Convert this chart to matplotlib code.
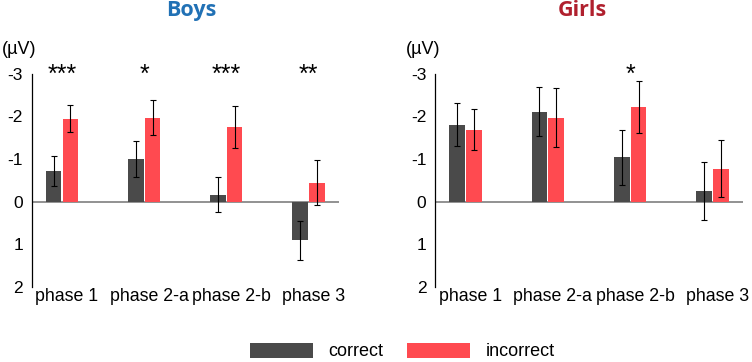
import numpy as np
import matplotlib.pyplot as plt

plt.rcParams['font.family'] = ['Liberation Sans', 'DejaVu Sans']

# 数据 (µV), 负值向上
phases = ['phase 1', 'phase 2-a', 'phase 2-b', 'phase 3']

boys_correct = [-0.72, -1.00, -0.17, 0.90]
boys_correct_err = [0.35, 0.43, 0.42, 0.46]
boys_incorrect = [-1.95, -1.97, -1.75, -0.45]
boys_incorrect_err = [0.31, 0.41, 0.49, 0.52]
boys_stars = ['***', '*', '***', '**']

girls_correct = [-1.81, -2.11, -1.04, -0.25]
girls_correct_err = [0.50, 0.57, 0.65, 0.68]
girls_incorrect = [-1.69, -1.97, -2.23, -0.78]
girls_incorrect_err = [0.48, 0.69, 0.61, 0.67]
girls_stars = ['', '', '*', '']

c_correct = '#4a4a4a'
c_incorrect = '#ff4a50'

fig = plt.figure(figsize=(7.52, 3.62), dpi=100)
ax_b = fig.add_axes([0.0426, 0.207, 0.408, 0.589])
ax_g = fig.add_axes([0.579, 0.207, 0.409, 0.589])

x = np.arange(len(phases))
w = 0.19

def draw_panel(ax, corr, corr_err, inc, inc_err, stars):
    ax.bar(x - 0.102, corr, w, color=c_correct, label='correct', zorder=2)
    ax.bar(x + 0.102, inc, w, color=c_incorrect, label='incorrect', zorder=2)
    ax.errorbar(x - 0.102, corr, yerr=corr_err, fmt='none', ecolor='black',
                elinewidth=0.8, capsize=2.5, capthick=0.8, zorder=3)
    ax.errorbar(x + 0.102, inc, yerr=inc_err, fmt='none', ecolor='black',
                elinewidth=0.8, capsize=2.5, capthick=0.8, zorder=3)
    ax.axhline(0, color='#7f7f7f', lw=1.2, zorder=1)
    for xi, s in zip(x, stars):
        if s:
            ax.text(xi, -2.97, s, ha='center', va='center', fontsize=18,
                    clip_on=False)
    ax.set_xlim(-0.365, 3.37)
    ax.set_ylim(2, -3)
    ax.set_yticks([-3, -2, -1, 0, 1, 2])
    ax.set_yticklabels(['-3', '-2', '-1', '0', '1', '2'])
    ax.set_xticks(x + 0.06)
    ax.set_xticklabels(phases, fontsize=12.8)
    ax.tick_params(axis='x', length=0, pad=1)
    ax.tick_params(axis='y', which='major', length=0, pad=6.5, labelsize=12.5)
    ax.set_yticks([-3, 2], minor=True)
    ax.tick_params(axis='y', which='minor', length=3, width=0.8)
    for sp in ['top', 'right', 'bottom']:
        ax.spines[sp].set_visible(False)
    ax.spines['left'].set_linewidth(0.9)
    ax.text(-0.097, 1.072, '(µV)', transform=ax.transAxes, fontsize=13,
            ha='left', va='bottom')

draw_panel(ax_b, boys_correct, boys_correct_err, boys_incorrect,
           boys_incorrect_err, boys_stars)
draw_panel(ax_g, girls_correct, girls_correct_err, girls_incorrect,
           girls_incorrect_err, girls_stars)

fig.text(0.254, 0.972, 'Boys', ha='center', va='center', fontsize=15.5,
         fontweight='bold', color='#2171b5', family=['Open Sans', 'DejaVu Sans'])
fig.text(0.775, 0.972, 'Girls', ha='center', va='center', fontsize=15.5,
         fontweight='bold', color='#b0202e', family=['Open Sans', 'DejaVu Sans'])

handles, labels = ax_b.get_legend_handles_labels()
fig.legend(handles, labels, loc='center', bbox_to_anchor=(0.535, 0.029),
           ncol=2, frameon=False, fontsize=13, handlelength=3.5,
           handleheight=0.95, handletextpad=0.85, columnspacing=1.3)

fig.savefig('out.png', dpi=100)
